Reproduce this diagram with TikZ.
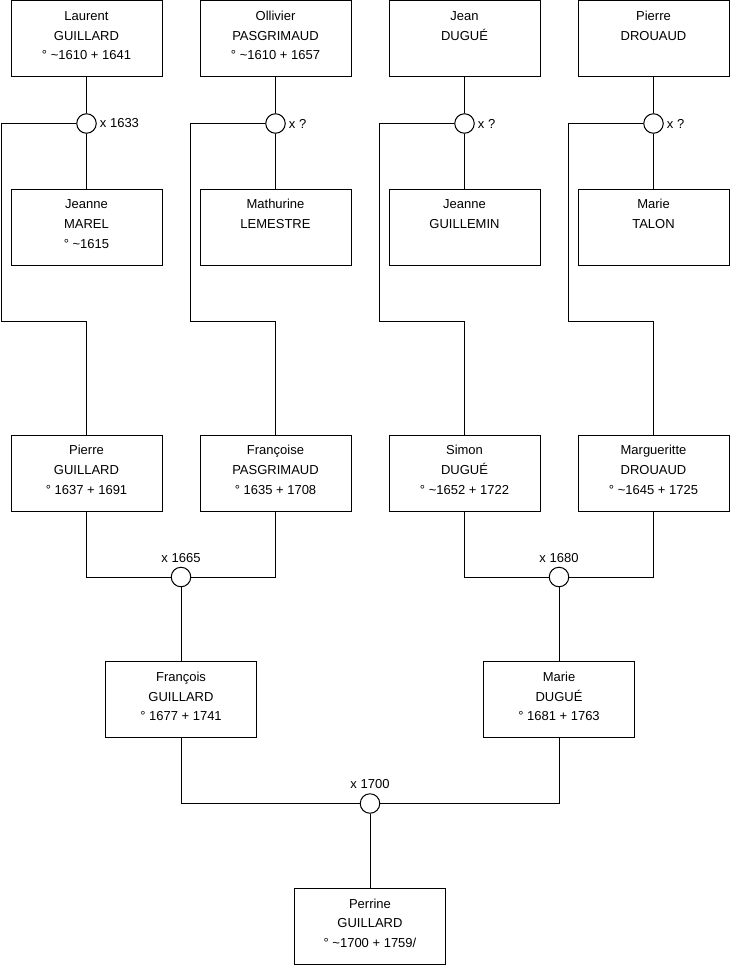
\documentclass[tikz,border=0pt]{standalone}
\usepackage{fontspec}
\setmainfont{Liberation Sans}
\newcommand\tl{\textasciitilde}
\tikzset{
 pbox/.style={draw, line width=1pt, minimum width=151pt, minimum height=76pt, inner sep=0pt},
 ptxt/.style={anchor=north, align=center, inner sep=0pt, font=\fontsize{13}{19.7}\selectfont},
 mring/.style={draw, circle, line width=1pt, minimum size=19.5pt, inner sep=0pt, fill=white},
 mlab/.style={inner sep=0pt, font=\fontsize{13}{15}\selectfont},
 link/.style={line width=1pt}
}
\newcommand\personbox[4]{%
 \node[pbox] (#1) at (#2,#3) {};
 \node[ptxt, yshift=-6.5pt] (#1t) at (#1.north) {\strut #4};}
\begin{document}
\begin{tikzpicture}[x=1pt,y=-1pt]
\useasboundingbox (0,0) rectangle (740,975);
% row 1
\personbox{a1}{86.5}{38.5}{Laurent\\GUILLARD\\° \tl1610 + 1641}
\personbox{a2}{275.5}{38.5}{Ollivier\\PASGRIMAUD\\° \tl1610 + 1657}
\personbox{a3}{464.5}{38.5}{Jean\\DUGUÉ}
\personbox{a4}{653.5}{38.5}{Pierre\\DROUAUD}
% row 2
\personbox{b1}{86.5}{227}{Jeanne\\MAREL\\° \tl1615}
\personbox{b2}{275.5}{227}{Mathurine\\LEMESTRE}
\personbox{b3}{464.5}{227}{Jeanne\\GUILLEMIN}
\personbox{b4}{653.5}{227}{Marie\\TALON}
% row 3
\personbox{c1}{86.5}{473}{Pierre\\GUILLARD\\° 1637 + 1691}
\personbox{c2}{275.5}{473}{Françoise\\PASGRIMAUD\\° 1635 + 1708}
\personbox{c3}{464.5}{473}{Simon\\DUGUÉ\\° \tl1652 + 1722}
\personbox{c4}{653.5}{473}{Margueritte\\DROUAUD\\° \tl1645 + 1725}
% row 4
\personbox{d1}{181}{699.5}{François\\GUILLARD\\° 1677 + 1741}
\personbox{d2}{559}{699.5}{Marie\\DUGUÉ\\° 1681 + 1763}
% row 5
\personbox{e1}{370}{926}{Perrine\\GUILLARD\\° \tl1700 + 1759/}
% marriage rings
\node[mring] (m1) at (86.5,123.5) {};
\node[mring] (m2) at (275.5,123.5) {};
\node[mring] (m3) at (464.5,123.5) {};
\node[mring] (m4) at (653.5,123.5) {};
\node[mring] (n1) at (181,577) {};
\node[mring] (n2) at (559,577) {};
\node[mring] (o1) at (370,803.5) {};
% ring labels
\node[mlab, anchor=west, xshift=3pt] (m1l) at (m1.east) {x 1633};
\node[mlab, anchor=west, xshift=3pt] (m2l) at (m2.east) {x ?};
\node[mlab, anchor=west, xshift=3pt] (m3l) at (m3.east) {x ?};
\node[mlab, anchor=west, xshift=3pt] (m4l) at (m4.east) {x ?};
\node[mlab, anchor=south, yshift=4pt] (n1l) at (n1.north) {x 1665};
\node[mlab, anchor=south, yshift=4pt] (n2l) at (n2.north) {x 1680};
\node[mlab, anchor=south, yshift=4pt] (o1l) at (o1.north) {x 1700};
% elbow coordinates
\coordinate (k1) at (1.5,321);
\coordinate (k2) at (190.5,321);
\coordinate (k3) at (379.5,321);
\coordinate (k4) at (568.5,321);
% connectors
\foreach \i in {1,2,3,4}{
 \draw[link] (a\i.south) -- (m\i.north);
 \draw[link] (m\i.south) -- (b\i.north);
 \draw[link] (m\i.west) -| (k\i) -| (c\i.north);
}
\draw[link] (c1.south) |- (n1.west);
\draw[link] (c2.south) |- (n1.east);
\draw[link] (c3.south) |- (n2.west);
\draw[link] (c4.south) |- (n2.east);
\draw[link] (n1.south) -- (d1.north);
\draw[link] (n2.south) -- (d2.north);
\draw[link] (d1.south) |- (o1.west);
\draw[link] (d2.south) |- (o1.east);
\draw[link] (o1.south) -- (e1.north);
\end{tikzpicture}
\end{document}
